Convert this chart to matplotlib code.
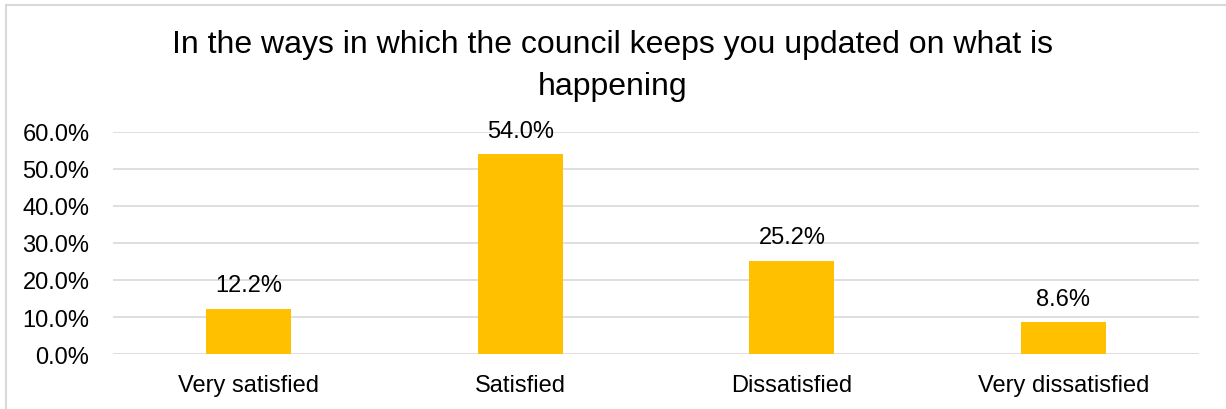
import matplotlib.pyplot as plt
from matplotlib.patches import Rectangle
from matplotlib.ticker import PercentFormatter

plt.rcParams['font.family'] = ['Liberation Sans', 'DejaVu Sans']

categories = ["Very satisfied", "Satisfied", "Dissatisfied", "Very dissatisfied"]
values = [12.2, 54.0, 25.2, 8.6]
value_labels = ["12.2%", "54.0%", "25.2%", "8.6%"]
title = "In the ways in which the council keeps you updated on what is\nhappening"

fig = plt.figure(figsize=(12.26, 4.10), dpi=100, facecolor="white")
ax = fig.add_axes([0.0922, 0.134, 0.886, 0.542])

# thin grey chart frame
fig.patches.append(Rectangle((6 / 1226, -0.05), 1.1, 1 - 6 / 410 + 0.05,
                             transform=fig.transFigure, fill=False,
                             edgecolor="#d9d9d9", linewidth=1.5))

x = range(len(categories))
bars = ax.bar(x, values, width=0.313, color="#ffc000", zorder=3)

for b, lab in zip(bars, value_labels):
    ax.annotate(lab, (b.get_x() + b.get_width() / 2, b.get_height()),
                xytext=(0, 9), textcoords="offset points",
                ha="center", va="bottom", fontsize=17, color="#000000")

ax.set_xlim(-0.5, len(categories) - 0.5)
ax.set_ylim(0, 60)
ax.set_yticks(range(0, 61, 10))
ax.yaxis.set_major_formatter(PercentFormatter(decimals=1))
ax.set_xticks(list(x))
ax.set_xticklabels(categories)
ax.tick_params(axis="both", length=0, labelsize=17, colors="#000000")
ax.tick_params(axis="x", pad=14)
ax.tick_params(axis="y", pad=17)
ax.grid(axis="y", color="#d9d9d9", linewidth=1.2, zorder=0)
for s in ax.spines.values():
    s.set_visible(False)

fig.text(0.5, 0.928, title, ha="center", va="top", fontsize=23,
         linespacing=1.55)

fig.savefig("out.png", dpi=100, facecolor="white")
